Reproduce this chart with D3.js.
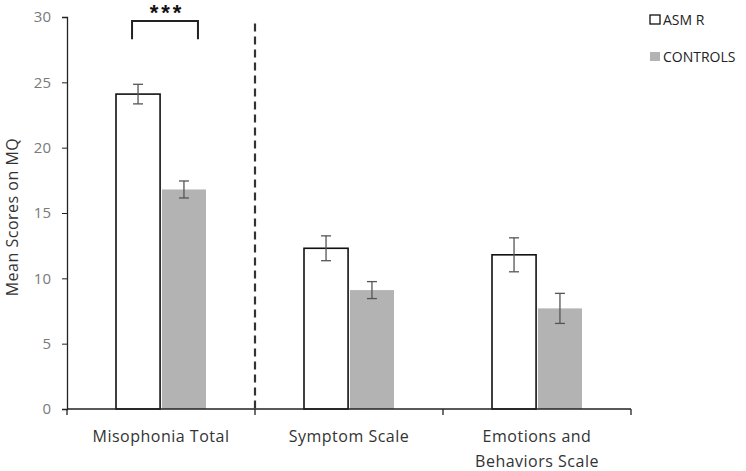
<!DOCTYPE html>
<html lang="en">
<head>
<meta charset="UTF-8">
<title>Mean Scores on MQ</title>
<script src="https://d3js.org/d3.v7.min.js"></script>
<style>
    body { margin: 0; background: #fff; }
    text { font-family: "Open Sans", Lato, sans-serif; }
</style>
</head>
<body>
<div id="chart"></div>
<script>
    // data
    const categories = ["Misophonia Total", "Symptom Scale", "Emotions and Behaviors Scale"];
    const groups = ["ASMR", "CONTROLS"];
    const asmrMeans = [24.1, 12.3, 11.8];
    const asmrErr = [0.75, 0.95, 1.3];
    const controlMeans = [16.8, 9.1, 7.7];
    const controlErr = [0.65, 0.65, 1.15];
    const yTicks = [0, 5, 10, 15, 20, 25, 30];

    const W = 746, H = 471;
    const margin = { top: 17, right: 115, bottom: 62, left: 67 };
    const width = W - margin.left - margin.right,
        height = H - margin.top - margin.bottom;

    const svg = d3.select("#chart").append("svg")
        .attr("width", W).attr("height", H)
        .append("g")
        .attr("transform", "translate(" + margin.left + "," + margin.top + ")");

    const x = d3.scaleBand().domain(categories).range([0, width]);
    const xInner = d3.scaleBand().domain(groups).range([49, x.bandwidth() - 49]).paddingInner(0.04);
    const y = d3.scaleLinear().domain([0, 30]).range([height, 0]);

    const rows = [];
    categories.forEach(function (c, i) {
        rows.push({ cat: c, grp: "ASMR", v: asmrMeans[i], e: asmrErr[i] });
        rows.push({ cat: c, grp: "CONTROLS", v: controlMeans[i], e: controlErr[i] });
    });

    // bars
    svg.selectAll(".bar").data(rows).enter().append("rect")
        .attr("class", "bar")
        .attr("x", d => x(d.cat) + xInner(d.grp))
        .attr("y", d => y(d.v))
        .attr("width", xInner.bandwidth())
        .attr("height", d => height - y(d.v))
        .attr("fill", d => d.grp === "ASMR" ? "#fff" : "#b3b3b3")
        .attr("stroke", d => d.grp === "ASMR" ? "#111" : "none")
        .attr("stroke-width", 1.6);

    // error bars
    const eb = svg.selectAll(".err").data(rows).enter().append("g")
        .attr("class", "err")
        .attr("transform", d => "translate(" + (x(d.cat) + xInner(d.grp) + xInner.bandwidth() / 2) + ",0)")
        .attr("stroke", "#555").attr("stroke-width", 1.3);
    eb.append("line").attr("y1", d => y(d.v + d.e)).attr("y2", d => y(d.v - d.e));
    eb.append("line").attr("x1", -5).attr("x2", 5).attr("y1", d => y(d.v + d.e)).attr("y2", d => y(d.v + d.e));
    eb.append("line").attr("x1", -5).attr("x2", 5).attr("y1", d => y(d.v - d.e)).attr("y2", d => y(d.v - d.e));

    // axes
    const yAxis = svg.append("g")
        .call(d3.axisLeft(y).tickValues(yTicks).tickSize(5).tickPadding(11));
    yAxis.select(".domain").attr("stroke", "#222").attr("stroke-width", 1.3);
    yAxis.selectAll(".tick line").attr("stroke", "#222");
    yAxis.selectAll("text").attr("fill", "#7a7a7a").style("font-size", "15px")
        .style("font-family", "'Open Sans', sans-serif");

    const xTicks = [0, width / 3, 2 * width / 3, width];
    const xAxis = svg.append("g").attr("transform", "translate(0," + height + ")");
    xAxis.append("line").attr("x1", 0).attr("x2", width).attr("stroke", "#222").attr("stroke-width", 1.3);
    xAxis.selectAll(".xt").data(xTicks).enter().append("line")
        .attr("x1", d => d).attr("x2", d => d).attr("y1", 0).attr("y2", 6)
        .attr("stroke", "#222").attr("stroke-width", 1.3);

    // category labels
    const labelLines = [["Misophonia Total"], ["Symptom Scale"], ["Emotions and", "Behaviors Scale"]];
    categories.forEach(function (c, i) {
        const t = svg.append("text")
            .attr("x", x(c) + x.bandwidth() / 2)
            .attr("y", height + 33)
            .attr("text-anchor", "middle")
            .attr("fill", "#333")
            .style("font-size", "16px")
            .style("letter-spacing", "0.5px");
        labelLines[i].forEach(function (l, j) {
            t.append("tspan").attr("x", x(c) + x.bandwidth() / 2).attr("dy", j === 0 ? 0 : 25).text(l);
        });
    });

    // y label
    svg.append("text")
        .attr("transform", "translate(" + (-49) + "," + (height / 2 + 4) + ") rotate(-90)")
        .attr("text-anchor", "middle")
        .attr("fill", "#333")
        .style("font-size", "16px")
        .style("letter-spacing", "0.5px")
        .text("Mean Scores on MQ");

    // dashed separator
    svg.append("line")
        .attr("x1", x(categories[1])).attr("x2", x(categories[1]))
        .attr("y1", y(29.5)).attr("y2", height)
        .attr("stroke", "#333").attr("stroke-width", 2.2)
        .attr("stroke-dasharray", "8,5");

    // significance bracket
    const bx1 = x(categories[0]) + xInner("ASMR") + xInner.bandwidth() / 2 - 6;
    const bx2 = x(categories[0]) + xInner("CONTROLS") + xInner.bandwidth() / 2 + 14;
    svg.append("path")
        .attr("d", "M" + bx1 + "," + y(28.3) + "V" + y(29.7) + "H" + bx2 + "V" + y(28.3))
        .attr("fill", "none").attr("stroke", "#222").attr("stroke-width", 2);
    svg.append("text")
        .attr("x", (bx1 + bx2) / 2 + 2).attr("y", y(29.7) - 0.5)
        .attr("text-anchor", "middle")
        .style("font-family", "'Liberation Sans', Arial, sans-serif")
        .style("font-size", "22px").style("font-weight", "bold")
        .style("letter-spacing", "3px")
        .attr("fill", "#111")
        .text("***");

    // legend
    const legend = svg.append("g").attr("transform", "translate(" + (width + 19) + ",0)");
    groups.forEach(function (g, i) {
        const row = legend.append("g").attr("transform", "translate(0," + (i * 37) + ")");
        row.append("rect")
            .attr("x", 0).attr("y", -2).attr("width", 10).attr("height", 9)
            .attr("fill", g === "ASMR" ? "#fff" : "#b3b3b3")
            .attr("stroke", g === "ASMR" ? "#111" : "none")
            .attr("stroke-width", 1.3);
        row.append("text")
            .attr("x", 13).attr("y", 8)
            .attr("fill", "#222")
            .style("font-size", "14px")
            .text(g === "ASMR" ? "ASM R" : g);
    });
</script>
</body>
</html>
